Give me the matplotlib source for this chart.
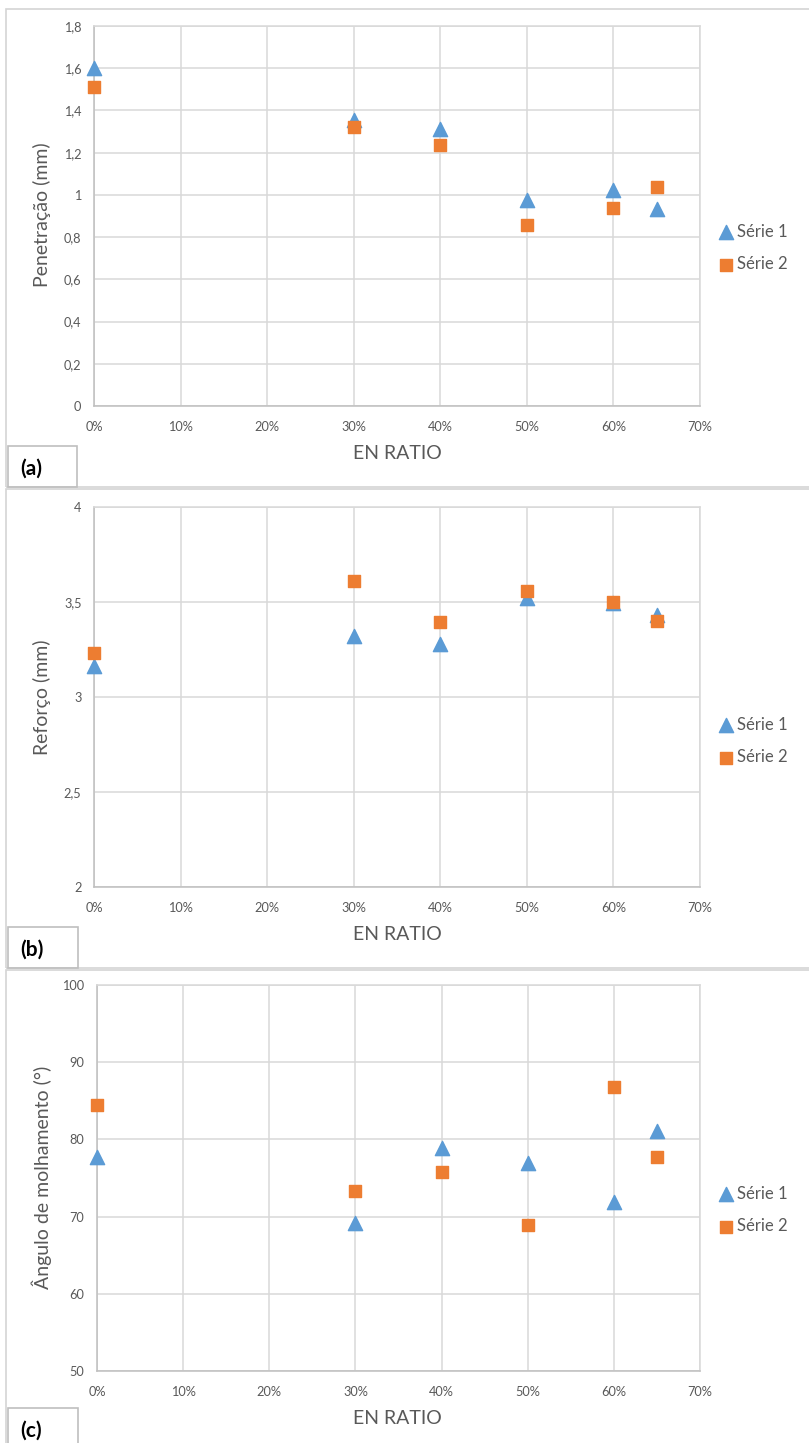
import matplotlib.pyplot as plt
from matplotlib.patches import Rectangle

plt.rcParams['font.family'] = ['Lato', 'DejaVu Sans']

# data
en_ratio = [0.0, 0.30, 0.40, 0.50, 0.60, 0.65]

pen_s1 = [1.60, 1.355, 1.313, 0.976, 1.022, 0.934]
pen_s2 = [1.51, 1.322, 1.237, 0.857, 0.938, 1.036]

ref_s1 = [3.163, 3.321, 3.279, 3.52, 3.495, 3.43]
ref_s2 = [3.23, 3.612, 3.396, 3.56, 3.50, 3.398]

ang_s1 = [77.7, 69.2, 78.9, 77.0, 71.9, 81.1]
ang_s2 = [84.4, 73.3, 75.8, 68.95, 86.8, 77.75]

x_ticks = [0, 0.1, 0.2, 0.3, 0.4, 0.5, 0.6, 0.7]
x_labels = ['0%', '10%', '20%', '30%', '40%', '50%', '60%', '70%']

W, H = 809, 1443
BLUE = '#5B9BD5'
ORANGE = '#ED7D31'
GRID = '#D9D9D9'
TXT = '#595959'

fig = plt.figure(figsize=(W / 100, H / 100), dpi=100)


def px_rect(x0, y0, x1, y1):
    # pixel box (top-left origin) -> figure fraction
    return [x0 / W, 1 - y1 / H, (x1 - x0) / W, (y1 - y0) / H]


def panel(box, axbox, s1, s2, ylim, yticks, ylabels, ylab, ylab_y, tag, tag_box, xlab_y, leg_y):
    # panel frame
    fig.patches.append(Rectangle((box[0] / W, 1 - box[3] / H), (box[2] - box[0]) / W,
                                 (box[3] - box[1]) / H, transform=fig.transFigure,
                                 fill=False, edgecolor='#D4D4D4', linewidth=1.2))
    fig.patches.append(Rectangle((tag_box[0] / W, 1 - tag_box[3] / H), (tag_box[2] - tag_box[0]) / W,
                                 (tag_box[3] - tag_box[1]) / H, transform=fig.transFigure,
                                 fill=False, edgecolor='#BFBFBF', linewidth=1.2))
    fig.text(20 / W, 1 - (tag_box[1] + 23) / H, tag, fontsize=15,
             fontweight='bold', va='center', ha='left', color='black')

    ax = fig.add_axes(px_rect(*axbox))
    ax.scatter(en_ratio, s1, marker='^', s=105, color=BLUE, label='Série 1', zorder=3, clip_on=False)
    ax.scatter(en_ratio, s2, marker='s', s=72, color=ORANGE, label='Série 2', zorder=3, clip_on=False)
    ax.set_xlim(0, 0.7)
    ax.set_ylim(*ylim)
    ax.set_xticks(x_ticks)
    ax.set_xticklabels(x_labels)
    ax.set_yticks(yticks)
    ax.set_yticklabels(ylabels)
    ax.grid(True, color=GRID, linewidth=1.1)
    ax.set_axisbelow(True)
    for side in ['top', 'right']:
        ax.spines[side].set_color(GRID)
        ax.spines[side].set_linewidth(1.1)
    for side in ['left', 'bottom']:
        ax.spines[side].set_color('#BFBFBF')
        ax.spines[side].set_linewidth(1.1)
    ax.tick_params(length=0, labelsize=9.2, labelcolor=TXT)
    ax.tick_params(axis='x', pad=11)
    ax.tick_params(axis='y', pad=9)

    fig.text(42 / W, 1 - ylab_y / H, ylab, rotation=90, fontsize=14, color=TXT,
             ha='center', va='center')
    fig.text(397 / W, 1 - xlab_y / H, 'EN RATIO', fontsize=14, color=TXT,
             ha='center', va='center')
    ax.legend(loc='center left', bbox_to_anchor=(709 / W, 1 - leg_y / H),
              bbox_transform=fig.transFigure, frameon=False, fontsize=12,
              labelcolor=TXT, handletextpad=0.1, labelspacing=1.0,
              handlelength=1.2, borderaxespad=0)
    return ax


panel((6, 9, 830, 487), (94, 26, 700, 406), pen_s1, pen_s2, (0, 1.8),
      [0, 0.2, 0.4, 0.6, 0.8, 1.0, 1.2, 1.4, 1.6, 1.8],
      ['0', '0,2', '0,4', '0,6', '0,8', '1', '1,2', '1,4', '1,6', '1,8'],
      'Penetração (mm)', 215, '(a)', (8, 446, 77, 487), 453, 248)

panel((6, 489, 830, 968), (94, 507, 700, 887), ref_s1, ref_s2, (2, 4),
      [2, 2.5, 3, 3.5, 4],
      ['2', '2,5', '3', '3,5', '4'],
      'Reforço (mm)', 697, '(b)', (8, 927, 78, 968), 935, 741)

panel((6, 970, 830, 1460), (97, 985, 700, 1371), ang_s1, ang_s2, (50, 100),
      [50, 60, 70, 80, 90, 100],
      ['50', '60', '70', '80', '90', '100'],
      'Ângulo de molhamento (°)', 1177, '(c)', (8, 1408, 78, 1460), 1418, 1210)

fig.savefig('out.png', dpi=100)
